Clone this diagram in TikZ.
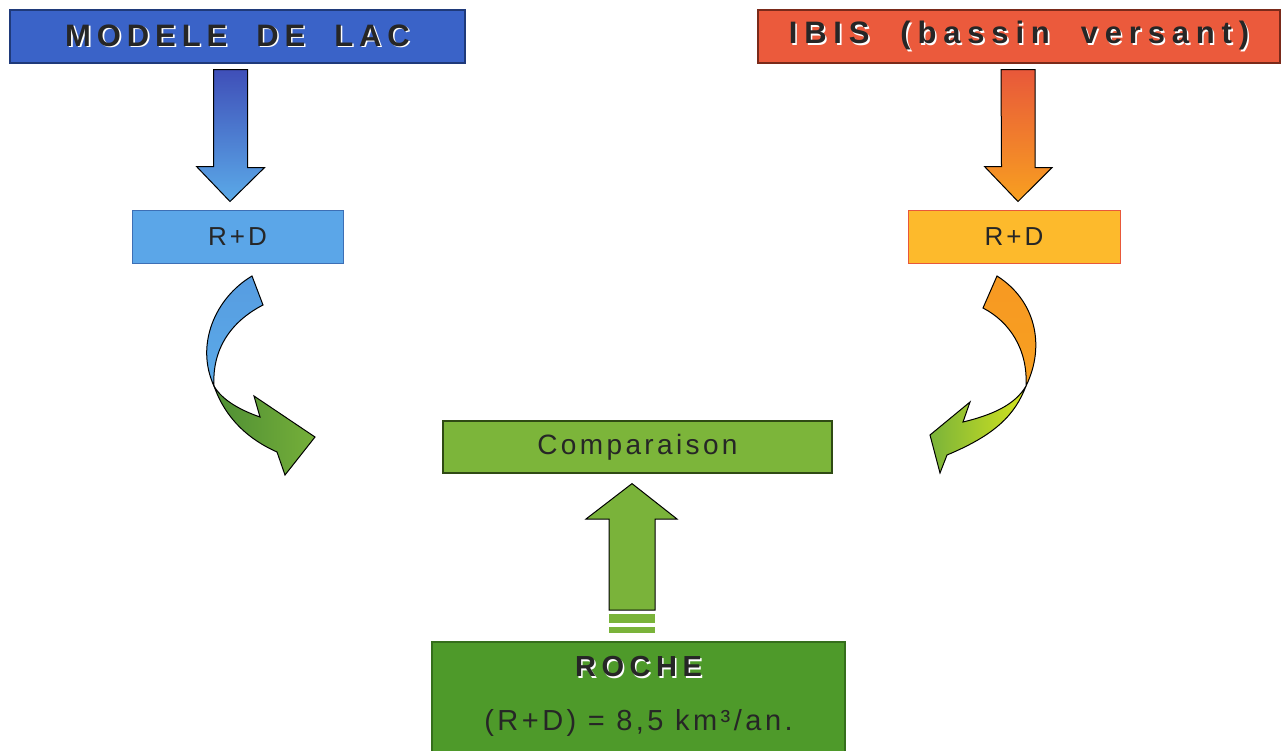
\documentclass[tikz,border=0pt]{standalone}
\usepackage{fontspec}
\setmainfont{Liberation Sans}
\newfontfamily\titlefont{Liberation Sans}[LetterSpace=19]
\newfontfamily\ibisfont{Liberation Sans}[LetterSpace=22]
\newfontfamily\boxfont{Liberation Sans}[LetterSpace=12]
\usetikzlibrary{calc}
\definecolor{lacblue}{HTML}{3A63C8}
\definecolor{lacborder}{HTML}{1F3A7A}
\definecolor{ibisred}{HTML}{EB5A3C}
\definecolor{ibisborder}{HTML}{7A2A1A}
\definecolor{rdblue}{HTML}{5BA6E8}
\definecolor{rdblueborder}{HTML}{3D6FB5}
\definecolor{rdorange}{HTML}{FDBA2C}
\definecolor{rdorangeborder}{HTML}{E8583A}
\definecolor{compgreen}{HTML}{7CB53A}
\definecolor{compborder}{HTML}{2F4A14}
\definecolor{rochegreen}{HTML}{4E9A2A}
\definecolor{rocheborder}{HTML}{356E1C}
\definecolor{arrowdarkblue}{HTML}{3F4FB8}
\definecolor{arrowlightblue}{HTML}{5BAAE8}
\definecolor{arrowred}{HTML}{E8583A}
\definecolor{arroworange}{HTML}{F8A020}
\definecolor{darkgreen}{HTML}{4E8E34}
\definecolor{midgreen}{HTML}{7AB33A}
\definecolor{yellowgreen}{HTML}{D4E41E}
\newcommand\embossed[1]{\leavevmode\rlap{\hspace{1.6pt}\raisebox{-1.6pt}{\color{white}#1}}#1}
\tikzset{
  box/.style={rectangle, draw, line width=1.2pt, inner sep=0pt, text=black!85},
  blockarrow/.style={draw=black, line width=1pt, line join=miter},
}
\begin{document}
\begin{tikzpicture}[x=1pt,y=-1pt]
\useasboundingbox (0,0) rectangle (1283,750);
\fill[white] (0,0) rectangle (1283,750);

% title boxes
\node[box, fill=lacblue, draw=lacborder, minimum width=455pt, minimum height=53pt] (lac) at (237.5,36.5)
  {\fontsize{31pt}{31pt}\titlefont\bfseries\embossed{MODELE~~DE~~LAC}};
\node[box, fill=ibisred, draw=ibisborder, minimum width=522pt, minimum height=53pt] (ibis) at (1019,36.5)
  {\fontsize{31pt}{31pt}\ibisfont\bfseries\embossed{IBIS~~(bassin~~versant)}};

% R+D boxes
\node[box, fill=rdblue, draw=rdblueborder, line width=1pt, minimum width=211pt, minimum height=53pt] (rdL) at (237.5,236.5)
  {\fontsize{26pt}{26pt}\boxfont R+D};
\node[box, fill=rdorange, draw=rdorangeborder, line width=1pt, minimum width=212pt, minimum height=53pt] (rdR) at (1014,236.5)
  {\fontsize{26pt}{26pt}\boxfont R+D};

% comparison box
\node[box, fill=compgreen, draw=compborder, minimum width=389pt, minimum height=52pt] (comp) at (637.5,447)
  {\fontsize{28pt}{28pt}\boxfont Comparaison};

% roche box
\node[box, fill=rochegreen, draw=rocheborder, minimum width=413pt, minimum height=112pt] (roche) at (638.5,698) {};
\node[text=black!85, align=center, inner sep=0pt] (rochetext) at (638.5,696.5)
  {\fontsize{29pt}{29pt}\titlefont\bfseries\embossed{ROCHE}\\[30pt]
   \fontsize{29pt}{29pt}\boxfont (R+D) = 8,5 km³/an.};

% straight down arrows
\shadedraw[blockarrow, top color=arrowdarkblue, bottom color=arrowlightblue]
  ($(lac.south)+(-24,6)$) -- ++(34,0) -- ++(0,98) -- ++(17,0) -- ($(rdL.north)+(-7.5,-8)$) -- ++(-33.5,-35) -- ++(17,0) -- cycle;
\shadedraw[blockarrow, top color=arrowred, bottom color=arroworange]
  ($(ibis.south)+(-18,6)$) -- ++(34,0) -- ++(0,98) -- ++(17,0) -- ($(rdR.north)+(4,-8)$) -- ++(-33.5,-35) -- ++(17,0) -- cycle;

% up arrow
\fill[midgreen, draw=black, line width=1pt, line join=miter]
  (609,610) -- (609,519) -- (586,519) -- ($(comp.south)+(-5.5,10)$) -- (677,519) -- (655,519) -- (655,610) -- cycle;
\fill[midgreen] (609,614) rectangle (655,623);
\fill[midgreen] (609,627) rectangle (655,633);

% left curved arrow
\shadedraw[blockarrow, top color=arrowlightblue!85!arrowdarkblue, bottom color=arrowlightblue]
  (252,276) .. controls (215,298) and (195,345) .. (214,386)
  .. controls (212,350) and (230,322) .. (263,305) -- cycle;
\shadedraw[blockarrow, left color=darkgreen, right color=midgreen!90!darkgreen]
  (214,386) .. controls (226,420) and (250,440) .. (277,452) -- (285,475) -- (315,437) -- (254,396) -- (260,417)
  .. controls (240,410) and (222,400) .. (214,386) -- cycle;

% right curved arrow
\shadedraw[blockarrow, top color=arroworange!90!arrowred, bottom color=arroworange]
  (997,276) .. controls (1035,300) and (1046,345) .. (1026,386)
  .. controls (1028,350) and (1010,322) .. (983,308) -- cycle;
\shadedraw[blockarrow, left color=midgreen, right color=yellowgreen]
  (1026,386) .. controls (1015,415) and (995,435) .. (947,455) -- (940,473) -- (930,435) -- (970,402) -- (963,422)
  .. controls (992,415) and (1015,405) .. (1026,386) -- cycle;
\end{tikzpicture}
\end{document}
